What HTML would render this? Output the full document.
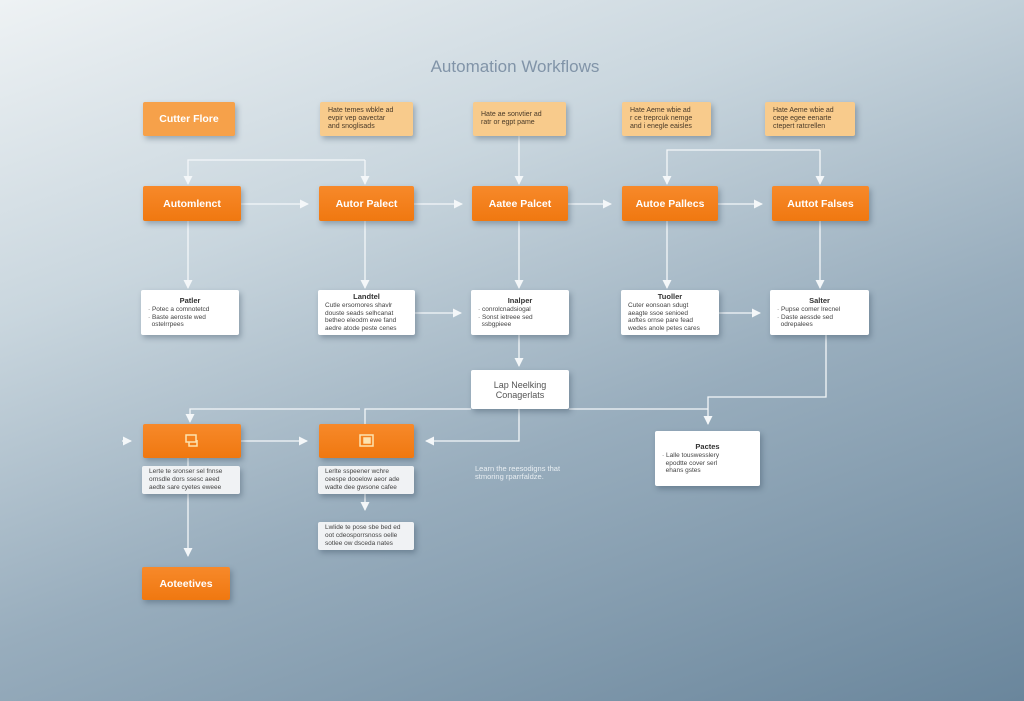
<!DOCTYPE html>
<html><head><meta charset="utf-8"><style>
*{margin:0;padding:0;box-sizing:border-box}
body{width:1024px;height:701px;overflow:hidden;position:relative;font-family:"Liberation Sans",sans-serif;
background:linear-gradient(160deg,#eef2f4 0%,#c9d6de 30%,#98adbd 60%,#6a869c 100%);}
.b{position:absolute;display:flex;align-items:center;justify-content:center;text-align:center;border-radius:2px;box-shadow:2px 3px 6px rgba(40,60,80,.35)}
.o{background:linear-gradient(180deg,#f7892a,#f07810);color:#fff;font-weight:bold;font-size:10.5px}
.lo{background:#f6a14a;color:#fff;font-weight:bold;font-size:10.5px}
.p{background:#f8cb8c;color:#4a3a28;font-size:7px;line-height:8px;text-align:left;padding:0 8px;justify-content:flex-start}
.w{background:#fff;color:#444;font-size:6.5px;line-height:7.5px;flex-direction:column;text-align:left;align-items:flex-start;padding:4px 7px}
.w b{font-size:7.5px;align-self:center;color:#333;margin-bottom:2px}
.g{background:#f0f2f4;color:#444;font-size:6.5px;line-height:8px;text-align:left;padding:0 7px;justify-content:flex-start}
svg{position:absolute;left:0;top:0}
</style></head><body>
<div style="position:absolute;left:0;width:1030px;top:57px;text-align:center;color:#8194a8;font-size:17px">Automation Workflows</div>
<svg width="1024" height="701" fill="none" stroke="#f4f7f9" stroke-width="1.3">
<defs><marker id="a" markerWidth="9" markerHeight="9" refX="8" refY="4.5" orient="auto" markerUnits="userSpaceOnUse"><path d="M0,0L9,4.5L0,9z" fill="#f4f7f9" stroke="none"/></marker></defs>
<path d="M365,160H188V184" marker-end="url(#a)"/><path d="M365,160V184" marker-end="url(#a)"/>
<path d="M519,136V184" marker-end="url(#a)"/>
<path d="M820,150H667V184" marker-end="url(#a)"/><path d="M820,150V184" marker-end="url(#a)"/>
<path d="M241,204H308" marker-end="url(#a)"/><path d="M414,204H462" marker-end="url(#a)"/><path d="M568,204H611" marker-end="url(#a)"/><path d="M718,204H762" marker-end="url(#a)"/>
<path d="M188,221V288" marker-end="url(#a)"/><path d="M365,221V288" marker-end="url(#a)"/><path d="M519,221V288" marker-end="url(#a)"/><path d="M667,221V288" marker-end="url(#a)"/><path d="M820,221V288" marker-end="url(#a)"/>
<path d="M415,313H461" marker-end="url(#a)"/><path d="M719,313H760" marker-end="url(#a)"/>
<path d="M519,335V366" marker-end="url(#a)"/>
<path d="M360,409H190V422" marker-end="url(#a)"/>
<path d="M365,424V409H471"/>
<path d="M569,409H708"/><path d="M826,335V397H708V424" marker-end="url(#a)"/>
<path d="M122,441H131" marker-end="url(#a)"/>
<path d="M241,441H307" marker-end="url(#a)"/>
<path d="M519,409V441H426" marker-end="url(#a)"/>
<path d="M365,494V510" marker-end="url(#a)"/>
<path d="M188,458V556" marker-end="url(#a)"/>
</svg>
<div class="b lo" style="left:143px;top:102px;width:92px;height:34px">Cutter Flore</div>
<div class="b p" style="left:320px;top:102px;width:93px;height:34px">Hate temes wbkle ad<br>evpir vep oavectar<br>and snoglisads</div>
<div class="b p" style="left:473px;top:102px;width:93px;height:34px">Hate ae sonvtier ad<br>ratr or egpt pame</div>
<div class="b p" style="left:622px;top:102px;width:89px;height:34px">Hate Aeme wbie ad<br>r ce treprcuk nemge<br>and i enegle eaisles</div>
<div class="b p" style="left:765px;top:102px;width:90px;height:34px">Hate Aeme wbie ad<br>ceqe egee eenarte<br>ctepert ratcrellen</div>
<div class="b o" style="left:143px;top:186px;width:98px;height:35px">Automlenct</div>
<div class="b o" style="left:319px;top:186px;width:95px;height:35px">Autor Palect</div>
<div class="b o" style="left:472px;top:186px;width:96px;height:35px">Aatee Palcet</div>
<div class="b o" style="left:622px;top:186px;width:96px;height:35px">Autoe Pallecs</div>
<div class="b o" style="left:772px;top:186px;width:97px;height:35px">Auttot Falses</div>
<div class="b w" style="left:141px;top:290px;width:98px;height:45px"><b>Patler</b>· Potec a comnotetcd<br>· Baste aeroste wed<br>&nbsp;&nbsp;ostelrrpees</div>
<div class="b w" style="left:318px;top:290px;width:97px;height:45px"><b>Landtel</b>Cutle ersornores shavlr<br>douste seads selhcanat<br>betheo eleodm ewe fand<br>aedre atode peste cenes</div>
<div class="b w" style="left:471px;top:290px;width:98px;height:45px"><b>Inalper</b>· conrolcnadsiogal<br>· Sonst ietreee sed<br>&nbsp;&nbsp;ssbgpieee</div>
<div class="b w" style="left:621px;top:290px;width:98px;height:45px"><b>Tuoller</b>Cuter eonsoan sdugt<br>aeagte ssoe senioed<br>aoftes ornse pare fead<br>wedes anole petes cares</div>
<div class="b w" style="left:770px;top:290px;width:99px;height:45px"><b>Salter</b>· Pupse comer lrecnel<br>· Daste aessde sed<br>&nbsp;&nbsp;odrepalees</div>
<div class="b w" style="left:471px;top:370px;width:98px;height:39px;align-items:center;justify-content:center;font-size:9px;line-height:10px;color:#555;text-align:center">Lap Neelking<br>Conagerlats</div>
<div class="b w" style="left:655px;top:431px;width:105px;height:55px"><b>Pactes</b>· Lalle touswesslery<br>&nbsp;&nbsp;epodtte cover serl<br>&nbsp;&nbsp;ehans gstes</div>
<div class="b o" style="left:143px;top:424px;width:98px;height:34px"><svg style="position:static" width="16" height="16" viewBox="0 0 16 16" fill="none" stroke="#fde3b0" stroke-width="1.5"><rect x="2" y="2" width="10" height="7"/><path d="M5,9v4h8V7"/></svg></div>
<div class="b o" style="left:319px;top:424px;width:95px;height:34px"><svg style="position:static" width="18" height="16" viewBox="0 0 18 16" fill="none" stroke="#fde3b0" stroke-width="1.5"><rect x="2" y="2" width="13" height="11"/><rect x="6" y="5" width="6" height="5" fill="#fde3b0"/></svg></div>
<div class="b g" style="left:142px;top:466px;width:98px;height:28px">Lerte te sronser sel fnnse<br>ornsdle dors ssesc aeed<br>aedte sare cyetes eweee</div>
<div class="b g" style="left:318px;top:466px;width:96px;height:28px">Lerlte sspeener wchre<br>ceespe dooelow aeor ade<br>wadte dee gwsone cafee</div>
<div class="b g" style="left:318px;top:522px;width:96px;height:28px">Lwlide te pose sbe bed ed<br>oot cdeosporrsnoss oelle<br>sotlee ow dsceda nates</div>
<div style="position:absolute;left:475px;top:465px;color:#e8eef2;font-size:7.5px;line-height:8px">Learn the reesodigns that<br>stmoring rparrfaldze.</div>
<div class="b o" style="left:142px;top:567px;width:88px;height:33px">Aoteetives</div>
</body></html>
